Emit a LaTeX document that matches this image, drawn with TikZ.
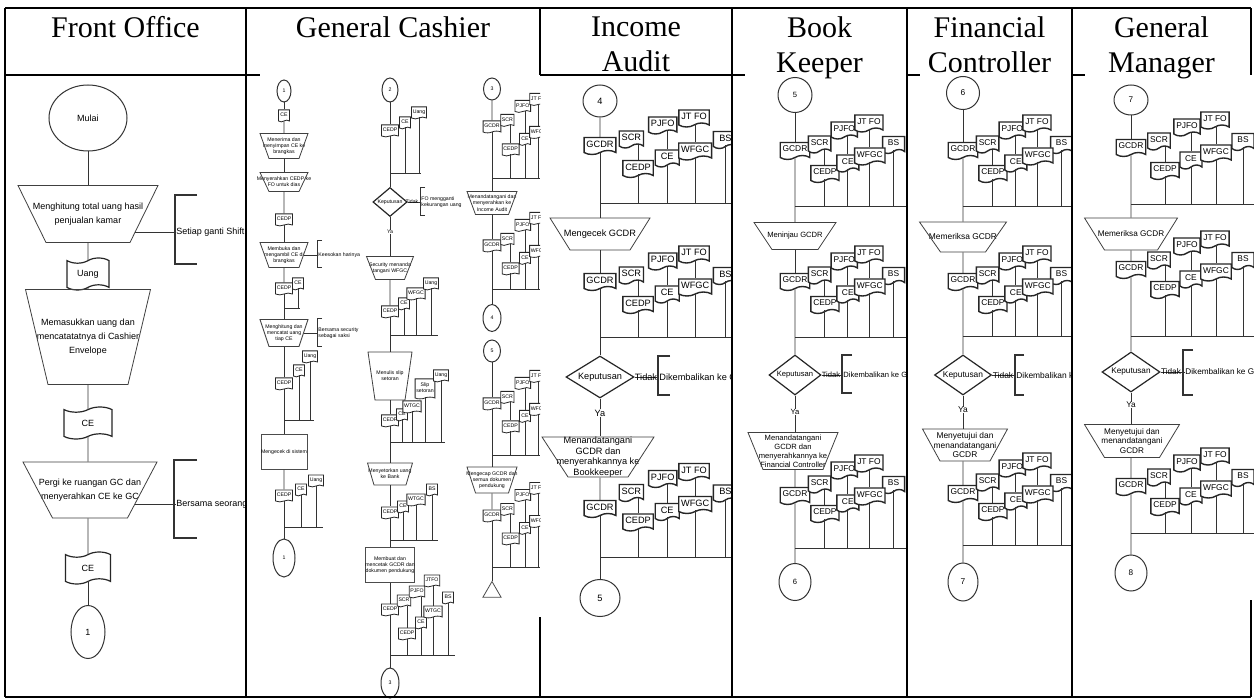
\documentclass[tikz,border=0pt]{standalone}
\usepackage{fontspec}
\setmainfont{Liberation Serif}
\newfontfamily\ars{Liberation Sans}
\usetikzlibrary{shapes.geometric,shapes.symbols}
\tikzset{
 tb/.style={line width=1pt,draw=black},
 fl/.style={draw=black!80,line width=0.45pt},
 shp/.style={draw=black!75,line width=0.4pt},
 brkB/.style={draw=black!80,line width=1pt},
 brk/.style={draw=black!80,line width=0.8pt},
 brkS/.style={draw=black!80,line width=0.5pt},
 txt/.style={inner sep=0pt,align=center},
 foF/.style={font=\ars\fontsize{4.5pt}{7pt}\selectfont},
 gcF/.style={font=\ars\fontsize{2.6pt}{3.1pt}\selectfont},
 iaF/.style={font=\ars\fontsize{4.6pt}{5.3pt}\selectfont},
 bkF/.style={font=\ars\fontsize{3.8pt}{4.5pt}\selectfont},
 fcF/.style={font=\ars\fontsize{4.2pt}{4.9pt}\selectfont},
 gmF/.style={font=\ars\fontsize{4.1pt}{4.8pt}\selectfont},
 doc/.style={shape=tape,tape bend top=none,tape bend height=2pt,draw=black!85,line width=0.7pt,fill=white,align=center,inner xsep=1.2pt,inner ysep=0.8pt,minimum width=11pt,minimum height=8.5pt},
 docL/.style={doc,font=\ars\fontsize{4.6pt}{5pt}\selectfont,minimum width=12pt},
 docM/.style={doc,font=\ars\fontsize{4.2pt}{5pt}\selectfont},
 docS/.style={doc,tape bend height=0.9pt,line width=0.4pt,inner xsep=0.6pt,inner ysep=0.4pt,minimum width=5.5pt,minimum height=6pt,font=\ars\fontsize{2.6pt}{3pt}\selectfont},
 tp/.style={shape=tape,tape bend height=2.6pt,draw=black!85,line width=0.6pt,fill=white,minimum width=21pt,minimum height=16pt,inner sep=0pt,foF},
 con/.style={ellipse,draw=black!80,line width=0.5pt,fill=white,inner sep=0pt},
 dec/.style={diamond,aspect=2,draw=black!85,line width=0.6pt,fill=white,inner sep=0pt},
 hdr/.style={font=\fontsize{15pt}{17.5pt}\selectfont,align=center,inner sep=0pt,anchor=north},
 rbox/.style={rectangle,draw=black!70,line width=0.4pt,align=center,inner sep=0pt},
}
\newcommand\trap[8]{%
  \node[txt,#7,minimum width=#4*0.5pt,minimum height=#6*0.5pt] (#1) at (#2,#3) {#8};
  \draw[shp] ([xshift=-#4*0.25pt,yshift=#6*0.25pt]#1.center) -- ([xshift=#4*0.25pt,yshift=#6*0.25pt]#1.center)
   -- ([xshift=#5*0.25pt,yshift=-#6*0.25pt]#1.center) -- ([xshift=-#5*0.25pt,yshift=-#6*0.25pt]#1.center) -- cycle;}
\newcommand\dgroup[8]{%
 \begin{scope}[shift={(#2,#3)},xscale=#4]
  \node[#5] (#1a) at (0,#7) {GCDR};
  \node[#5] (#1b) at (28,-6.5) {SCR};
  \node[#5] (#1c) at (56,-20.5) {PJFO};
  \node[#5] (#1d) at (84,-27.5) {JT FO};
  \node[#5] (#1e) at (112,-6) {BS};
  \node[#5] (#1f) at (34,23) {CEDP};
  \node[#5] (#1g) at (60,12.5) {CE};
  \node[#5] (#1h) at (85,5.5) {WFGC};
  \coordinate (#1bar) at (0,#8);
  \coordinate (#1end) at (#6,#8);
 \end{scope}
 \draw[fl] (#1f.north |- #1b.south) -- (#1f.north);
 \draw[fl] (#1f.south) -- (#1f.south |- #1bar);
 \draw[fl] (#1g.north |- #1c.south) -- (#1g.north);
 \draw[fl] (#1g.south) -- (#1g.south |- #1bar);
 \draw[fl] (#1h.north |- #1d.south) -- (#1h.north);
 \draw[fl] (#1h.south) -- (#1h.south |- #1bar);
 \draw[fl] (#1e.south) -- (#1e.south |- #1bar);
 \draw[fl] (#1bar) -- (#1end);
}
\begin{document}
\begin{tikzpicture}[x=0.5pt,y=-0.5pt]
\useasboundingbox (0,0) rectangle (1254,700);
\fill[white] (0,0) rectangle (1254,700);

% ---------------- headers
\node[hdr] (hfo) at (125.5,16) {Front Office};
\node[hdr] (hgc) at (393,16) {General Cashier};
\node[hdr] (hia) at (636,16) {Income\\Audit};
\node[hdr] (hbk) at (819.5,16) {Book\\Keeper};
\node[hdr] (hfc) at (989.5,16) {Financial\\Controller};
\node[hdr] (hgm) at (1161.5,16) {General\\Manager};

% ---------------- Front Office
\begin{scope}
\node[con,minimum width=39pt,minimum height=33pt,foF] (mulai) at (88,118) {Mulai};
\trap{fot1}{88}{214}{140}{84}{57}{foF}{Menghitung total uang hasil\\penjualan kamar}
\node[txt,foF,anchor=west] (fok1) at (176,232) {Setiap ganti Shift};
\draw[brkB] (197,195) -- (175,195) -- (175,264) -- (197,264);
\coordinate (fot1r) at (135,232);
\draw[fl] (fot1r) -- (fok1.west);
\node[tp] (fouang) at (88,274) {Uang};
\trap{fot2}{88}{337}{125}{80}{95}{foF}{Memasukkan uang dan\\mencatatatnya di Cashier\\Envelope}
\node[tp,minimum width=24pt] (foce1) at (88,423) {CE};
\trap{fot3}{90}{490}{134}{75}{56}{foF}{Pergi ke ruangan GC dan\\menyerahkan CE ke GC}
\node[txt,foF,anchor=west] (fok2) at (176,504) {Bersama seorang};
\draw[brkB] (197,460) -- (174,460) -- (174,538) -- (197,538);
\coordinate (fot3r) at (135,504);
\draw[fl] (fot3r) -- (fok2.west);
\node[tp,minimum width=22.5pt] (foce2) at (88,568) {CE};
\node[con,minimum width=17pt,minimum height=26.5pt,foF] (fo1) at (88,632) {1};
\draw[fl] (mulai) -- (fot1);
\draw[fl] (fot1) -- (fouang);
\draw[fl] (fouang) -- (fot2);
\draw[fl] (fot2) -- (foce1);
\draw[fl] (foce1) -- (foce1 |- fot3.north);
\draw[fl] (fot3.south -| foce2) -- (foce2);
\draw[fl] (foce2) -- (fo1);
\end{scope}

% ---------------- General Cashier
\begin{scope}
\clip (247,76) rectangle (540,700);
% flow A
\node[con,minimum width=7pt,minimum height=11pt,gcF] (ga1) at (284,91) {1};
\node[docS] (gace) at (284,115) {CE};
\trap{gat1}{284}{146}{48}{30}{25}{gcF}{Menerima dan\\menyimpan CE ke\\brangkas}
\trap{gat2}{284}{182}{48}{30}{19}{gcF}{Menyerahkan CEDP ke\\FO untuk dias}
\node[docS] (gacd1) at (284,219) {CEDP};
\trap{gat3}{284}{255}{48}{30}{25}{gcF}{Membuka dan\\mengambil CE di\\brangkas}
\node[txt,gcF,anchor=west,align=left] (gak1) at (318,255) {Keesokan harinya};
\draw[brkS] (322,241) -- (317,241) -- (317,268) -- (322,268);
\coordinate (gat3r) at (303.5,255);
\draw[fl] (gat3r) -- (gak1.west);
\node[docS] (gacd2) at (284,288) {CEDP};
\node[docS] (gace2) at (298,283) {CE};
\coordinate (gab2) at (284,308); \coordinate (gab2e) at (300,308);
\draw[fl] (gace2.south) -- (gace2.south |- gab2);
\draw[fl] (gab2) -- (gab2e);
\trap{gat4}{284}{333}{48}{30}{27}{gcF}{Menghitung dan\\mencatat uang\\tiap CE}
\node[txt,gcF,anchor=west,align=left] (gak2) at (318,333) {Bersama security\\sebagai saksi};
\draw[brkS] (322,319) -- (317,319) -- (317,347) -- (322,347);
\coordinate (gat4r) at (303.5,333);
\draw[fl] (gat4r) -- (gak2.west);
\node[docS] (gaug3) at (310,356) {Uang};
\node[docS] (gace3) at (299,370) {CE};
\node[docS] (gacd3) at (284,383) {CEDP};
\coordinate (gab3) at (284,420); \coordinate (gab3e) at (314,420);
\draw[fl] (gace3.south) -- (gace3.south |- gab3);
\draw[fl] (gaug3.south) -- (gaug3.south |- gab3);
\draw[fl] (gab3) -- (gab3e);
\node[rbox,minimum width=21pt,minimum height=17.5pt,gcF] (gabx) at (284,452) {Mengecek di sistem};
\node[docS] (gacd4) at (284,495) {CEDP};
\node[docS] (gace4) at (301,489) {CE};
\node[docS] (gaug4) at (316,480) {Uang};
\coordinate (gab4) at (284,527); \coordinate (gab4e) at (323,527);
\draw[fl] (gace4.south) -- (gace4.south |- gab4);
\draw[fl] (gaug4.south) -- (gaug4.south |- gab4);
\draw[fl] (gab4) -- (gab4e);
\node[con,minimum width=11pt,minimum height=19pt,gcF] (gaend) at (284,558) {1};
\draw[fl] (ga1) -- (gace);
\draw[fl] (gace) -- (gat1);
\draw[fl] (gat1) -- (gat2);
\draw[fl] (gat2) -- (gacd1);
\draw[fl] (gacd1) -- (gat3);
\draw[fl] (gat3) -- (gacd2);
\draw[fl] (gacd2) -- (gat4);
\draw[fl] (gat4) -- (gacd3);
\draw[fl] (gacd3) -- (gabx);
\draw[fl] (gabx) -- (gacd4);
\draw[fl] (gacd4) -- (gaend);
% flow B
\node[con,minimum width=8pt,minimum height=12pt,gcF] (gb2) at (390,90) {2};
\node[docS] (gbcd1) at (390,130) {CEDP};
\node[docS] (gbce1) at (405,122) {CE};
\node[docS] (gbug1) at (419,112) {Uang};
\coordinate (gbb1) at (390,173); \coordinate (gbb1e) at (421,173);
\draw[fl] (gbce1.south) -- (gbce1.south |- gbb1);
\draw[fl] (gbug1.south) -- (gbug1.south |- gbb1);
\draw[fl] (gbb1) -- (gbb1e);
\node[dec,minimum width=15pt,minimum height=14.5pt,gcF] (gbd) at (390,202) {Keputusan};
\node[txt,gcF,anchor=west,align=left] (gbk) at (421,202) {FO mengganti\\kekurangan uang};
\draw[brkS] (425,188) -- (420,188) -- (420,216) -- (425,216);
\draw[fl] (gbd.east) -- (gbk.west);
\node[txt,gcF] (gbtd) at (412,202) {Tidak};
\node[txt,gcF] (gbya) at (390,232) {Ya};
\trap{gbt1}{390}{268}{47}{29}{23}{gcF}{Security menanda\\tangani WFGC}
\node[docS] (gbcd2) at (390,311) {CEDP};
\node[docS] (gbce2) at (404,303) {CE};
\node[docS] (gbwf2) at (416,293) {WFGC};
\node[docS] (gbug2) at (431,283) {Uang};
\coordinate (gbb2) at (390,335); \coordinate (gbb2e) at (438,335);
\draw[fl] (gbce2.south) -- (gbce2.south |- gbb2);
\draw[fl] (gbwf2.south) -- (gbwf2.south |- gbb2);
\draw[fl] (gbug2.south) -- (gbug2.south |- gbb2);
\draw[fl] (gbb2) -- (gbb2e);
\trap{gbt2}{390}{376}{44}{30}{48}{gcF}{Menulis slip\\setoran}
\node[docS,minimum height=10pt] (gbsl) at (425,388) {Slip\\setoran};
\node[docS] (gbug3) at (441,375) {Uang};
\node[docS] (gbcd3) at (390,420) {CEDP};
\node[docS] (gbce3) at (402,414) {CE};
\node[docS] (gbwt3) at (412,406) {WTGC};
\coordinate (gbb3) at (390,442); \coordinate (gbb3e) at (445,442);
\draw[fl] (gbce3.south) -- (gbce3.south |- gbb3);
\draw[fl] (gbwt3.south) -- (gbwt3.south |- gbb3);
\draw[fl] (gbsl.south) -- (gbsl.south |- gbb3);
\draw[fl] (gbug3.south) -- (gbug3.south |- gbb3);
\draw[fl] (gbb3) -- (gbb3e);
\trap{gbt3}{390}{474}{45}{32}{22}{gcF}{Menyetorkan uang\\ke Bank}
\node[docS] (gbcd4) at (390,512) {CEDP};
\node[docS] (gbce4) at (403,506) {CE};
\node[docS] (gbwt4) at (416,499) {WTGC};
\node[docS] (gbbs4) at (432,489) {BS};
\coordinate (gbb4) at (390,540); \coordinate (gbb4e) at (438,540);
\draw[fl] (gbce4.south) -- (gbce4.south |- gbb4);
\draw[fl] (gbwt4.south) -- (gbwt4.south |- gbb4);
\draw[fl] (gbbs4.south) -- (gbbs4.south |- gbb4);
\draw[fl] (gbb4) -- (gbb4e);
\node[rbox,minimum width=21.5pt,minimum height=17.5pt,gcF] (gbbx) at (390,565) {Membuat dan\\mencetak GCDR dan\\dokumen pendukung};
\node[docS] (gbcd5) at (390,609) {CEDP};
\node[docS] (gbsc5) at (404,600) {SCR};
\node[docS] (gbpj5) at (417,591) {PJFO};
\node[docS] (gbjt5) at (432,580) {JTFO};
\node[docS] (gbce5) at (421,622) {CE};
\node[docS] (gbcx5) at (407,633) {CEDP};
\node[docS] (gbwt5) at (433,611) {WTGC};
\node[docS] (gbbs5) at (448,597) {BS};
\coordinate (gbb5) at (390,655); \coordinate (gbb5e) at (455,655);
\draw[fl] (gbcx5.north |- gbsc5.south) -- (gbcx5.north);
\draw[fl] (gbcx5.south) -- (gbcx5.south |- gbb5);
\draw[fl] (gbce5.north |- gbpj5.south) -- (gbce5.north);
\draw[fl] (gbce5.south) -- (gbce5.south |- gbb5);
\draw[fl] (gbwt5.north |- gbjt5.south) -- (gbwt5.north);
\draw[fl] (gbwt5.south) -- (gbwt5.south |- gbb5);
\draw[fl] (gbbs5.south) -- (gbbs5.south |- gbb5);
\draw[fl] (gbb5) -- (gbb5e);
\node[con,minimum width=9pt,minimum height=15pt,gcF] (gb3) at (390,683) {3};
\draw[fl] (gb2) -- (gbcd1);
\draw[fl] (gbcd1) -- (gbd);
\draw[fl] (gbd) -- (gbya);
\draw[fl] (gbya) -- (gbt1);
\draw[fl] (gbt1) -- (gbcd2);
\draw[fl] (gbcd2) -- (gbt2);
\draw[fl] (gbt2) -- (gbcd3);
\draw[fl] (gbcd3) -- (gbt3);
\draw[fl] (gbt3) -- (gbcd4);
\draw[fl] (gbcd4) -- (gbbx);
\draw[fl] (gbbx) -- (gbcd5);
\draw[fl] (gbcd5) -- (gb3);
% flow C
\node[con,minimum width=8.5pt,minimum height=11pt,gcF] (gc3) at (492,89) {3};
\dgroup{gcA}{492}{126}{0.55}{docS}{87}{0}{52}
\trap{gct1}{492}{203}{50}{33}{23}{gcF}{Menandatangani dan\\menyerahkan ke\\Income Audit}
\dgroup{gcB}{492}{245}{0.55}{docS}{87}{0}{44}
\node[con,minimum width=9pt,minimum height=13.5pt,gcF] (gc4) at (492,318) {4};
\node[con,minimum width=8.5pt,minimum height=11pt,gcF] (gc5) at (492,351) {5};
\dgroup{gcC}{492}{403}{0.55}{docS}{87}{0}{52}
\trap{gct2}{492}{480}{50}{33}{26}{gcF}{Mengecap GCDR dan\\semua dokumen\\pendukung}
\dgroup{gcD}{492}{515}{0.55}{docS}{87}{0}{52}
\node[regular polygon,regular polygon sides=3,draw=black!70,line width=0.4pt,minimum size=10.5pt,inner sep=0pt] (gctr) at (492,592) {};
\draw[fl] (gc3) -- (gcAa);
\draw[fl] (gcAa) -- (gct1);
\draw[fl] (gct1) -- (gcBa);
\draw[fl] (gcBa) -- (gc4);
\draw[fl] (gc5) -- (gcCa);
\draw[fl] (gcCa) -- (gct2);
\draw[fl] (gct2) -- (gcDa);
\draw[fl] (gcDa) -- (gctr.north);
\end{scope}

% ---------------- Income Audit
\begin{scope}
\clip (540,76) rectangle (732,697);
\node[con,minimum width=17pt,minimum height=16pt,iaF] (ia4) at (600,101) {4};
\dgroup{ia1}{600}{144}{1.12}{docL}{118}{0}{59}
\trap{iat1}{600}{234}{100}{60}{32}{iaF}{Mengecek GCDR}
\dgroup{ia2}{600}{280}{1.12}{docL}{118}{0}{57}
\node[dec,minimum width=34pt,minimum height=21pt,iaF] (iad) at (600,377) {Keputusan};
\node[txt,iaF,anchor=west] (iadk) at (659,377) {Dikembalikan ke GC};
\draw[brk] (670,356) -- (658,356) -- (658,395) -- (670,395);
\draw[fl] (iad.east) -- (iadk.west);
\node[txt,iaF] (iatd) at (646,377) {Tidak};
\node[txt,iaF] (iaya) at (600,413) {Ya};
\trap{iat2}{598}{457}{112}{60}{40}{iaF}{Menandatangani\\GCDR dan\\menyerahkannya ke\\Bookkeeper}
\dgroup{ia3}{600}{497.5}{1.12}{docL}{118}{9.5}{59.5}
\node[con,minimum width=20pt,minimum height=18.5pt,iaF] (ia5) at (600,598) {5};
\draw[fl] (ia4) -- (ia1a);
\draw[fl] (ia1a) -- (iat1);
\draw[fl] (iat1) -- (ia2a);
\draw[fl] (ia2a) -- (iad);
\draw[fl] (iad) -- (iaya);
\draw[fl] (iaya) -- (iaya |- iat2.north);
\draw[fl] (iat2.south -| ia3a) -- (ia3a);
\draw[fl] (ia3a) -- (ia5);
\end{scope}

% ---------------- Book Keeper
\begin{scope}
\clip (732,76) rectangle (907,697);
\node[con,minimum width=17pt,minimum height=17.5pt,bkF] (bk5) at (795,95) {5};
\dgroup{bk1}{795}{149}{0.88}{docM}{127}{0}{57}
\trap{bkt1}{795}{236}{82}{46}{27}{bkF}{Meninjau GCDR}
\dgroup{bk2}{795}{280}{0.88}{docM}{127}{0}{57}
\node[dec,minimum width=26pt,minimum height=20pt,bkF] (bkd) at (795,375) {Keputusan};
\node[txt,bkF,anchor=west] (bkdk) at (843,375) {Dikembalikan ke GC};
\draw[brk] (852,355) -- (842,355) -- (842,393) -- (852,393);
\draw[fl] (bkd.east) -- (bkdk.west);
\node[txt,bkF] (bktd) at (831,375) {Tidak};
\node[txt,bkF] (bkya) at (795,412) {Ya};
\trap{bkt2}{793}{451}{90}{60}{37}{bkF}{Menandatangani\\GCDR dan\\menyerahkannya ke\\Financial Controller}
\dgroup{bk3}{795}{489}{0.88}{docM}{127}{5}{59}
\node[con,minimum width=16pt,minimum height=18.5pt,bkF] (bk6) at (795,582) {6};
\draw[fl] (bk5) -- (bk1a);
\draw[fl] (bk1a) -- (bkt1);
\draw[fl] (bkt1) -- (bk2a);
\draw[fl] (bk2a) -- (bkd);
\draw[fl] (bkd) -- (bkya);
\draw[fl] (bkya) -- (bkya |- bkt2.north);
\draw[fl] (bkt2.south -| bk3a) -- (bk3a);
\draw[fl] (bk3a) -- (bk6);
\end{scope}

% ---------------- Financial Controller
\begin{scope}
\clip (907,76) rectangle (1072,697);
\node[con,minimum width=16.5pt,minimum height=16.5pt,fcF] (fc6) at (963,93) {6};
\dgroup{fc1}{963}{149}{0.88}{docM}{124}{0}{57}
\trap{fct1}{963}{237}{87}{45}{30}{fcF}{Memeriksa GCDR}
\dgroup{fc2}{963}{280}{0.88}{docM}{124}{0}{56}
\node[dec,minimum width=28.5pt,minimum height=20pt,fcF] (fcd) at (963,375) {Keputusan};
\node[txt,fcF,anchor=west] (fcdk) at (1016,375) {Dikembalikan ke GC};
\draw[brk] (1024,355) -- (1015,355) -- (1015,395) -- (1024,395);
\draw[fl] (fcd.east) -- (fcdk.west);
\node[txt,fcF] (fctd) at (1003,375) {Tidak};
\node[txt,fcF] (fcya) at (963,410) {Ya};
\trap{fct2}{965}{445}{85}{50}{32}{fcF}{Menyetujui dan\\menandatangani\\GCDR}
\dgroup{fc3}{963}{487}{0.88}{docM}{124}{5}{58}
\node[con,minimum width=15pt,minimum height=19pt,fcF] (fc7) at (963,582) {7};
\draw[fl] (fc6) -- (fc1a);
\draw[fl] (fc1a) -- (fct1);
\draw[fl] (fct1) -- (fc2a);
\draw[fl] (fc2a) -- (fcd);
\draw[fl] (fcd) -- (fcya);
\draw[fl] (fcya) -- (fcya |- fct2.north);
\draw[fl] (fct2.south -| fc3a) -- (fc3a);
\draw[fl] (fc3a) -- (fc7);
\end{scope}

% ---------------- General Manager
\begin{scope}
\clip (1072,76) rectangle (1254,697);
\node[con,minimum width=17pt,minimum height=15pt,gmF] (gm7) at (1131,100) {7};
\dgroup{gm1}{1131}{146}{1}{docM}{123}{0}{58}
\trap{gmt1}{1131}{234}{93}{53}{32}{gmF}{Memeriksa GCDR}
\dgroup{gm2}{1131}{265}{1}{docM}{123}{3}{71}
\node[dec,minimum width=29pt,minimum height=20pt,gmF] (gmd) at (1131,372) {Keputusan};
\node[txt,gmF,anchor=west] (gmdk) at (1185,372) {Dikembalikan ke GC};
\draw[brk] (1193,350) -- (1183,350) -- (1183,395) -- (1193,395);
\draw[fl] (gmd.east) -- (gmdk.west);
\node[txt,gmF] (gmtd) at (1171,372) {Tidak};
\node[txt,gmF] (gmya) at (1131,405) {Ya};
\trap{gmt2}{1132}{441}{95}{55}{33}{gmF}{Menyetujui dan\\menandatangani\\GCDR}
\dgroup{gm3}{1131}{482}{1}{docM}{123}{3}{51}
\node[con,minimum width=16pt,minimum height=18pt,gmF] (gm8) at (1131,573) {8};
\draw[fl] (gm7) -- (gm1a);
\draw[fl] (gm1a) -- (gmt1.north -| gm1a);
\draw[fl] (gmt1.south -| gm2a) -- (gm2a);
\draw[fl] (gm2a) -- (gmd);
\draw[fl] (gmd) -- (gmya);
\draw[fl] (gmya) -- (gmya |- gmt2.north);
\draw[fl] (gmt2.south -| gm3a) -- (gm3a);
\draw[fl] (gm3a) -- (gm8);
\end{scope}

% ---------------- table rules
\draw[tb] (5,8) -- (1251,8);
\draw[tb] (5,697) -- (1251,697);
\draw[tb] (5,8) -- (5,697);
\draw[tb] (246,8) -- (246,697);
\draw[tb] (540,8) -- (540,75);
\draw[tb] (540,617) -- (540,697);
\draw[tb] (732,8) -- (732,697);
\draw[tb] (907,8) -- (907,697);
\draw[tb] (1072,8) -- (1072,697);
\draw[tb] (1251,8) -- (1251,75);
\draw[tb] (1251,600) -- (1251,697);
\draw[tb] (5,75) -- (260,75);
\draw[tb] (540,75) -- (745,75);
\draw[tb] (907,75) -- (920,75);
\draw[tb] (1072,75) -- (1085,75);
\end{tikzpicture}
\end{document}
